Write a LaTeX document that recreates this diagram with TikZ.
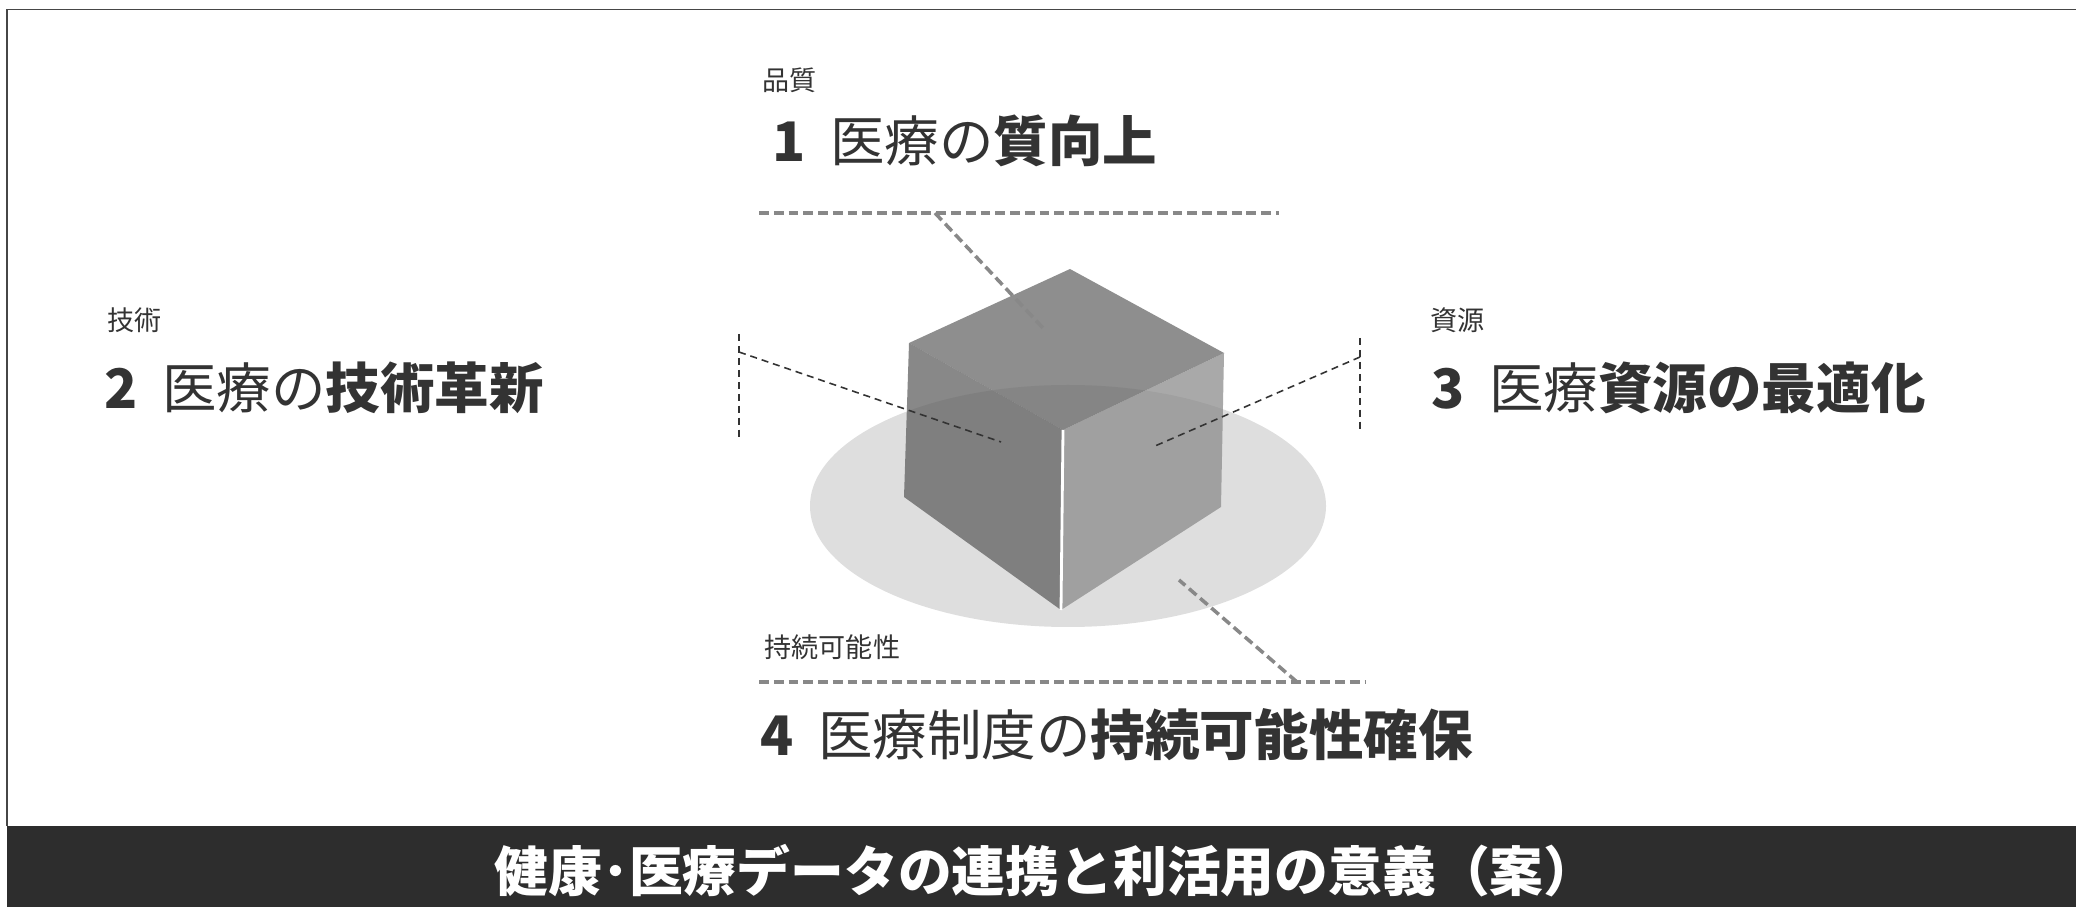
\documentclass[tikz,border=0pt]{standalone}
\usepackage{fontspec}
\setmainfont{Noto Sans CJK JP}
\usepackage{xcolor}
\usepackage{tikz}

\definecolor{ink}{RGB}{51,51,51}
\definecolor{barfill}{RGB}{45,45,45}
\definecolor{frameline}{RGB}{70,70,70}
\definecolor{lead}{RGB}{136,136,136}
\definecolor{disc}{RGB}{222,222,222}
\definecolor{cubetop}{RGB}{101,101,101}
\definecolor{cubeleft}{RGB}{93,93,93}
\definecolor{cuberight}{RGB}{138,138,138}
\newcommand\bigtext{\fontsize{15.5pt}{18pt}\selectfont}
\newcommand\smalltext{\fontsize{7.7pt}{9pt}\selectfont}
\newcommand\bartext{\fontsize{15.3pt}{18pt}\selectfont\bfseries}

\begin{document}
\begin{tikzpicture}[x=0.01cm, y=-0.01cm,
  heading/.style={anchor=west, inner sep=0pt, text=ink, font=\bigtext},
  tagline/.style={anchor=west, inner sep=0pt, text=ink, font=\smalltext},
  rule/.style={draw=lead, line width=1pt, dash pattern=on 2.8pt off 1.4pt},
  bracket/.style={draw=ink, line width=0.45pt, dash pattern=on 2pt off 1.4pt},
  face/.style={fill opacity=0.735}]
  \useasboundingbox (0,0) rectangle (2076,907);

  \fill[barfill] (7,826) rectangle (2076,907);
  \draw[frameline, line width=0.5pt] (7,826) -- (7,9.5) -- (2076,9.5);
  \node[text=white, font=\bartext, inner sep=0pt] (title) at (1046,871)
    {健康･医療データの連携と利活用の意義（案）};

  % disc with the cube standing on it
  \fill[disc] (1068,506) ellipse [x radius=258, y radius=121];
  \coordinate (T) at (1070,269);
  \coordinate (L) at (909,343);
  \coordinate (R) at (1224,353);
  \coordinate (F) at (1063,430);
  \coordinate (LL) at (904,497);
  \coordinate (RL) at (1221,507);
  \coordinate (B) at (1061,610);
  \fill[face, cubetop] (T) -- (R) -- (F) -- (L) -- cycle;
  \fill[face, cubeleft] (L) -- (F) -- (B) -- (LL) -- cycle;
  \fill[face, cuberight] (F) -- (R) -- (RL) -- (B) -- cycle;
  \draw[white, line width=0.8pt] (F) -- (B);

  % 1: top
  \node[tagline] (qual-tag) at (762,80) {品質};
  \node[heading] (qual-head) at (772,141)
    {\bfseries 1\hspace{0.45em}\mdseries 医療の\bfseries 質向上};
  \coordinate (qual-l) at (759,213);
  \coordinate (qual-r) at (1279,213);
  \coordinate (qual-foot) at (935,213);
  \coordinate (qual-tip) at (1043,328);
  \draw[rule] (qual-l) -- (qual-r);
  \draw[rule] (qual-foot) -- (qual-tip);

  % 2: left
  \node[tagline] (tech-tag) at (107,320) {技術};
  \node[heading] (tech-head) at (104,388)
    {\bfseries 2\hspace{0.45em}\mdseries 医療の\bfseries 技術革新};
  \coordinate (tech-top) at (739,334);
  \coordinate (tech-bot) at (739,437);
  \coordinate (tech-knee) at (739,352);
  \coordinate (tech-tip) at (1001,442);
  \draw[bracket] (tech-top) -- (tech-bot);
  \draw[bracket] (tech-knee) -- (tech-tip);

  % 3: right
  \node[tagline] (res-tag) at (1430,320) {資源};
  \node[heading] (res-head) at (1431,388)
    {\bfseries 3\hspace{0.45em}\mdseries 医療\bfseries 資源の最適化};
  \coordinate (res-top) at (1360,338);
  \coordinate (res-bot) at (1360,432);
  \coordinate (res-knee) at (1360,357);
  \coordinate (res-tip) at (1155,446);
  \draw[bracket] (res-top) -- (res-bot);
  \draw[bracket] (res-knee) -- (res-tip);

  % 4: bottom
  \node[tagline] (sus-tag) at (764,647) {持続可能性};
  \node[heading] (sus-head) at (760,735)
    {\bfseries 4\hspace{0.45em}\mdseries 医療制度の\bfseries 持続可能性確保};
  \coordinate (sus-l) at (759,682);
  \coordinate (sus-r) at (1366,682);
  \coordinate (sus-foot) at (1297,682);
  \coordinate (sus-tip) at (1179,580);
  \draw[rule] (sus-l) -- (sus-r);
  \draw[rule] (sus-foot) -- (sus-tip);
\end{tikzpicture}
\end{document}
